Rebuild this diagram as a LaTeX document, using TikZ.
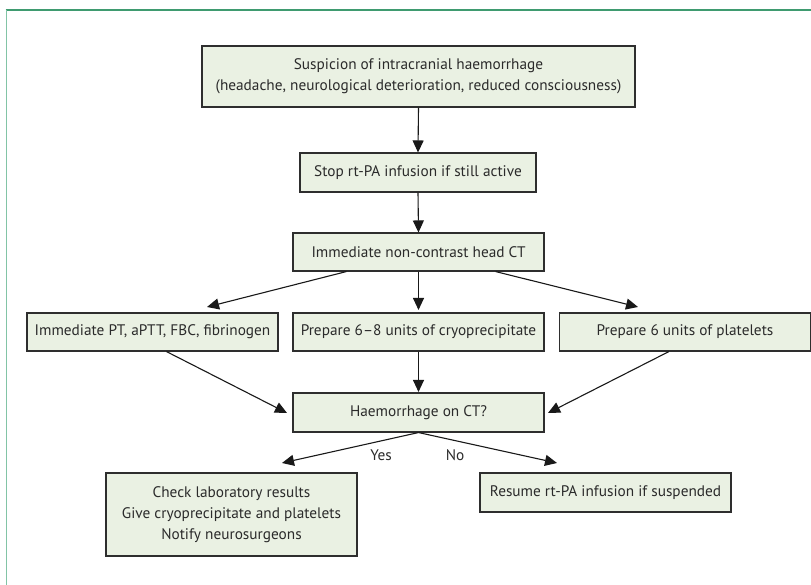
\documentclass[tikz,border=0pt]{standalone}
\usepackage{fontspec}
\setmainfont{PT Sans}
\usetikzlibrary{arrows.meta,calc}
\definecolor{boxfill}{HTML}{EAF1E3}
\definecolor{boxline}{HTML}{2E2E2E}
\definecolor{txt}{HTML}{2B2B2B}
\definecolor{frametop}{HTML}{3F9B70}
\definecolor{frameleft}{HTML}{82C4A6}
\tikzset{
  every picture/.style={x=1pt,y=-1pt},
  flowbox/.style={draw=boxline,fill=boxfill,line width=1.1pt,inner sep=0pt,
    minimum height=38pt,text=txt,font=\fontsize{15.3}{21}\selectfont,align=center},
  flowarrow/.style={draw=black!90,line width=1.1pt,-{Triangle[length=12pt,width=11pt]}},
  lbl/.style={text=txt,font=\fontsize{15.3}{17}\selectfont,inner sep=0pt}
}
\begin{document}
\begin{tikzpicture}
\useasboundingbox (0,0) rectangle (811,585);
\fill[white] (0,0) rectangle (811,585);
\draw[frametop,line width=1.6pt] (5.7,10) -- (811,10);
\draw[frameleft,line width=1.6pt] (6.5,10) -- (6.5,585);

\node[flowbox,minimum width=433pt,minimum height=61pt] (s1) at (418.5,76.5)
  {Suspicion of intracranial haemorrhage\\(headache, neurological deterioration, reduced consciousness)};
\node[flowbox,minimum width=236pt,minimum height=39pt] (s2) at (418,172.5) {Stop rt-PA infusion if still active};
\node[flowbox,minimum width=251pt] (s3) at (418.5,252) {Immediate non-contrast head CT};
\node[flowbox,minimum width=251pt] (l) at (152.5,332) {Immediate PT, aPTT, FBC, fibrinogen};
\node[flowbox,minimum width=251pt] (m) at (418.5,332) {Prepare 6–8 units of cryoprecipitate};
\node[flowbox,minimum width=251pt] (r) at (685,332) {Prepare 6 units of platelets};
\node[flowbox,minimum width=251pt,minimum height=39pt] (h) at (418.5,412.5) {Haemorrhage on CT?};
\node[flowbox,minimum width=251pt,minimum height=83pt] (yb) at (231.5,514.5)
  {Check laboratory results\\Give cryoprecipitate and platelets\\Notify neurosurgeons};
\node[flowbox,minimum width=251pt,minimum height=39pt] (nb) at (605.5,492.5) {Resume rt-PA infusion if suspended};

\node[lbl] (yes) at (381,455) {Yes};
\node[lbl] (no) at (455,455) {No};

\coordinate (tl) at (207,307);
\coordinate (tr) at (638,307);
\coordinate (hl) at (287,413);
\coordinate (hr) at (548,413);
\coordinate (bl) at (282,463);
\coordinate (br) at (557,463);

\draw[flowarrow] (s1.south) -- (s2.north);
\draw[flowarrow] (s2.south) -- (s3.north);
\draw[flowarrow] ($(s3.south west)+(54,0)$) -- (tl);
\draw[flowarrow,shorten >=2.5pt] (s3.south) -- (m.north);
\draw[flowarrow] ($(s3.south east)+(-49,0)$) -- (tr);
\draw[flowarrow] ($(l.south west)+(140,0)$) -- (hl);
\draw[flowarrow,shorten >=0.5pt] (m.south) -- (h.north);
\draw[flowarrow] ($(r.south west)+(110,0)$) -- (hr);
\draw[flowarrow] (h.south) -- (bl);
\draw[flowarrow] (h.south) -- (br);
\end{tikzpicture}
\end{document}
